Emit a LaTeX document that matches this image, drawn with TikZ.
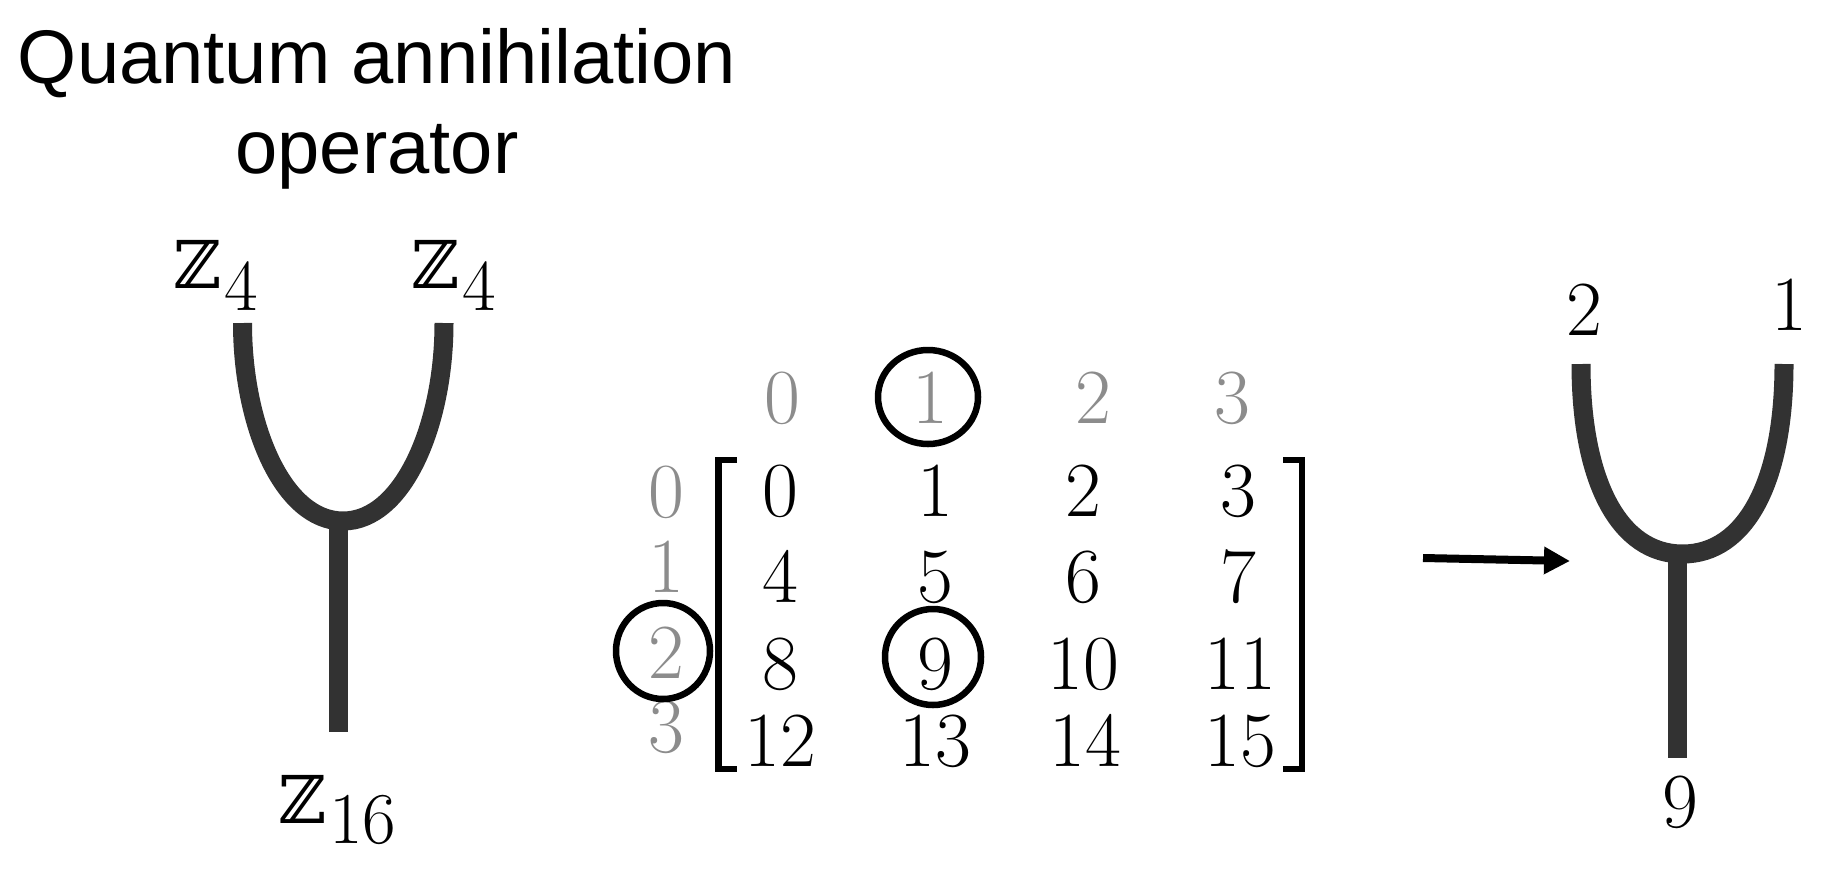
\documentclass[tikz,border=0pt]{standalone}
\usepackage{graphicx}
\usepackage{fontspec}
\newfontfamily\titlefont{Liberation Sans}
\newfontfamily\dsfont{DejaVu Serif}
\usetikzlibrary{arrows.meta}
\definecolor{forkgray}{RGB}{50,50,50}
\definecolor{labgray}{RGB}{140,140,140}
\newcommand\zzsym{{\dsfont\fontsize{66}{66}\selectfont ℤ}}
\begin{document}
\begin{tikzpicture}[x=1pt,y=-1pt,
  fork/.style={draw=forkgray,line width=19pt,line cap=butt},
  num/.style={inner sep=0pt,anchor=base,font=\fontsize{78}{78}\selectfont},
  hdr/.style={num,text=labgray},
  zlab/.style={inner sep=0pt,anchor=base west,font=\fontsize{73}{73}\selectfont},
  ttl/.style={inner sep=0pt,anchor=base,font=\titlefont\fontsize{76}{90}\selectfont},
  ring/.style={draw=black,line width=6.5pt},
  brk/.style={draw=black,line width=6.5pt,line join=miter},
  arr/.style={draw=black,line width=8pt,-{Triangle[length=26pt,width=26pt]}}]
\useasboundingbox (0,0) rectangle (1827,868);
% title
\node[ttl] (t1) at (377,83) {Quantum annihilation};
\node[ttl] (t2) at (377,173) {operator};
% left fork
\draw[fork] (242.5,323) .. controls (242.5,425) and (283,521) .. (343,521)
  .. controls (403,521) and (444,425) .. (444,323);
\draw[fork] (338,521) -- (338,732);
\node[zlab] (zl) at (173,288) {\zzsym\kern3pt\raisebox{-22pt}{4}};
\node[zlab] (zr) at (411,288) {\zzsym\kern3pt\raisebox{-22pt}{4}};
\node[zlab] (zb) at (278,823) {\zzsym\kern3pt\raisebox{-20pt}{16}};
% matrix headers
\node[hdr] (h0) at (782,423) {0};
\node[hdr] (h1) at (930,423) {1};
\node[hdr] (h2) at (1093,423) {2};
\node[hdr] (h3) at (1232,423) {3};
\node[hdr] (r0) at (666,517) {0};
\node[hdr] (r1) at (666,592) {1};
\node[hdr] (r2) at (666,678) {2};
\node[hdr] (r3) at (666,752) {3};
% matrix entries
\foreach \v/\x/\y in {0/780/516,1/935/516,2/1083/516,3/1238/516,
  4/780/602,5/935/602,6/1083/602,7/1238/602,
  8/780/689,9/935/689,10/1083/689,11/1240/689,
  12/780/766,13/935/766,14/1085/766,15/1240/766}
  \node[num] (m\v) at (\x,\y) {\v};
% brackets
\draw[brk] (737,460) -- (718.5,460) -- (718.5,769) -- (737,769);
\draw[brk] (1283,460) -- (1302,460) -- (1302,769) -- (1283,769);
% rings
\draw[ring] (928,397) ellipse [x radius=50, y radius=47];
\draw[ring] (663,651) ellipse [x radius=47, y radius=48];
\draw[ring] (933,657) ellipse [x radius=48, y radius=48];
% arrow
\coordinate (a1) at (1423,558);
\coordinate (a2) at (1570,561);
\draw[arr] (a1) -- (a2);
% right fork
\draw[fork] (1581,364) .. controls (1581,482) and (1619.5,554) .. (1682.5,554)
  .. controls (1745.5,554) and (1784,482) .. (1784,364);
\draw[fork] (1677,554) -- (1677,758);
\node[num] (o2) at (1584,335) {2};
\node[num] (o1) at (1789,330) {1};
\node[num] (o9) at (1680,827) {9};
\end{tikzpicture}
\end{document}
